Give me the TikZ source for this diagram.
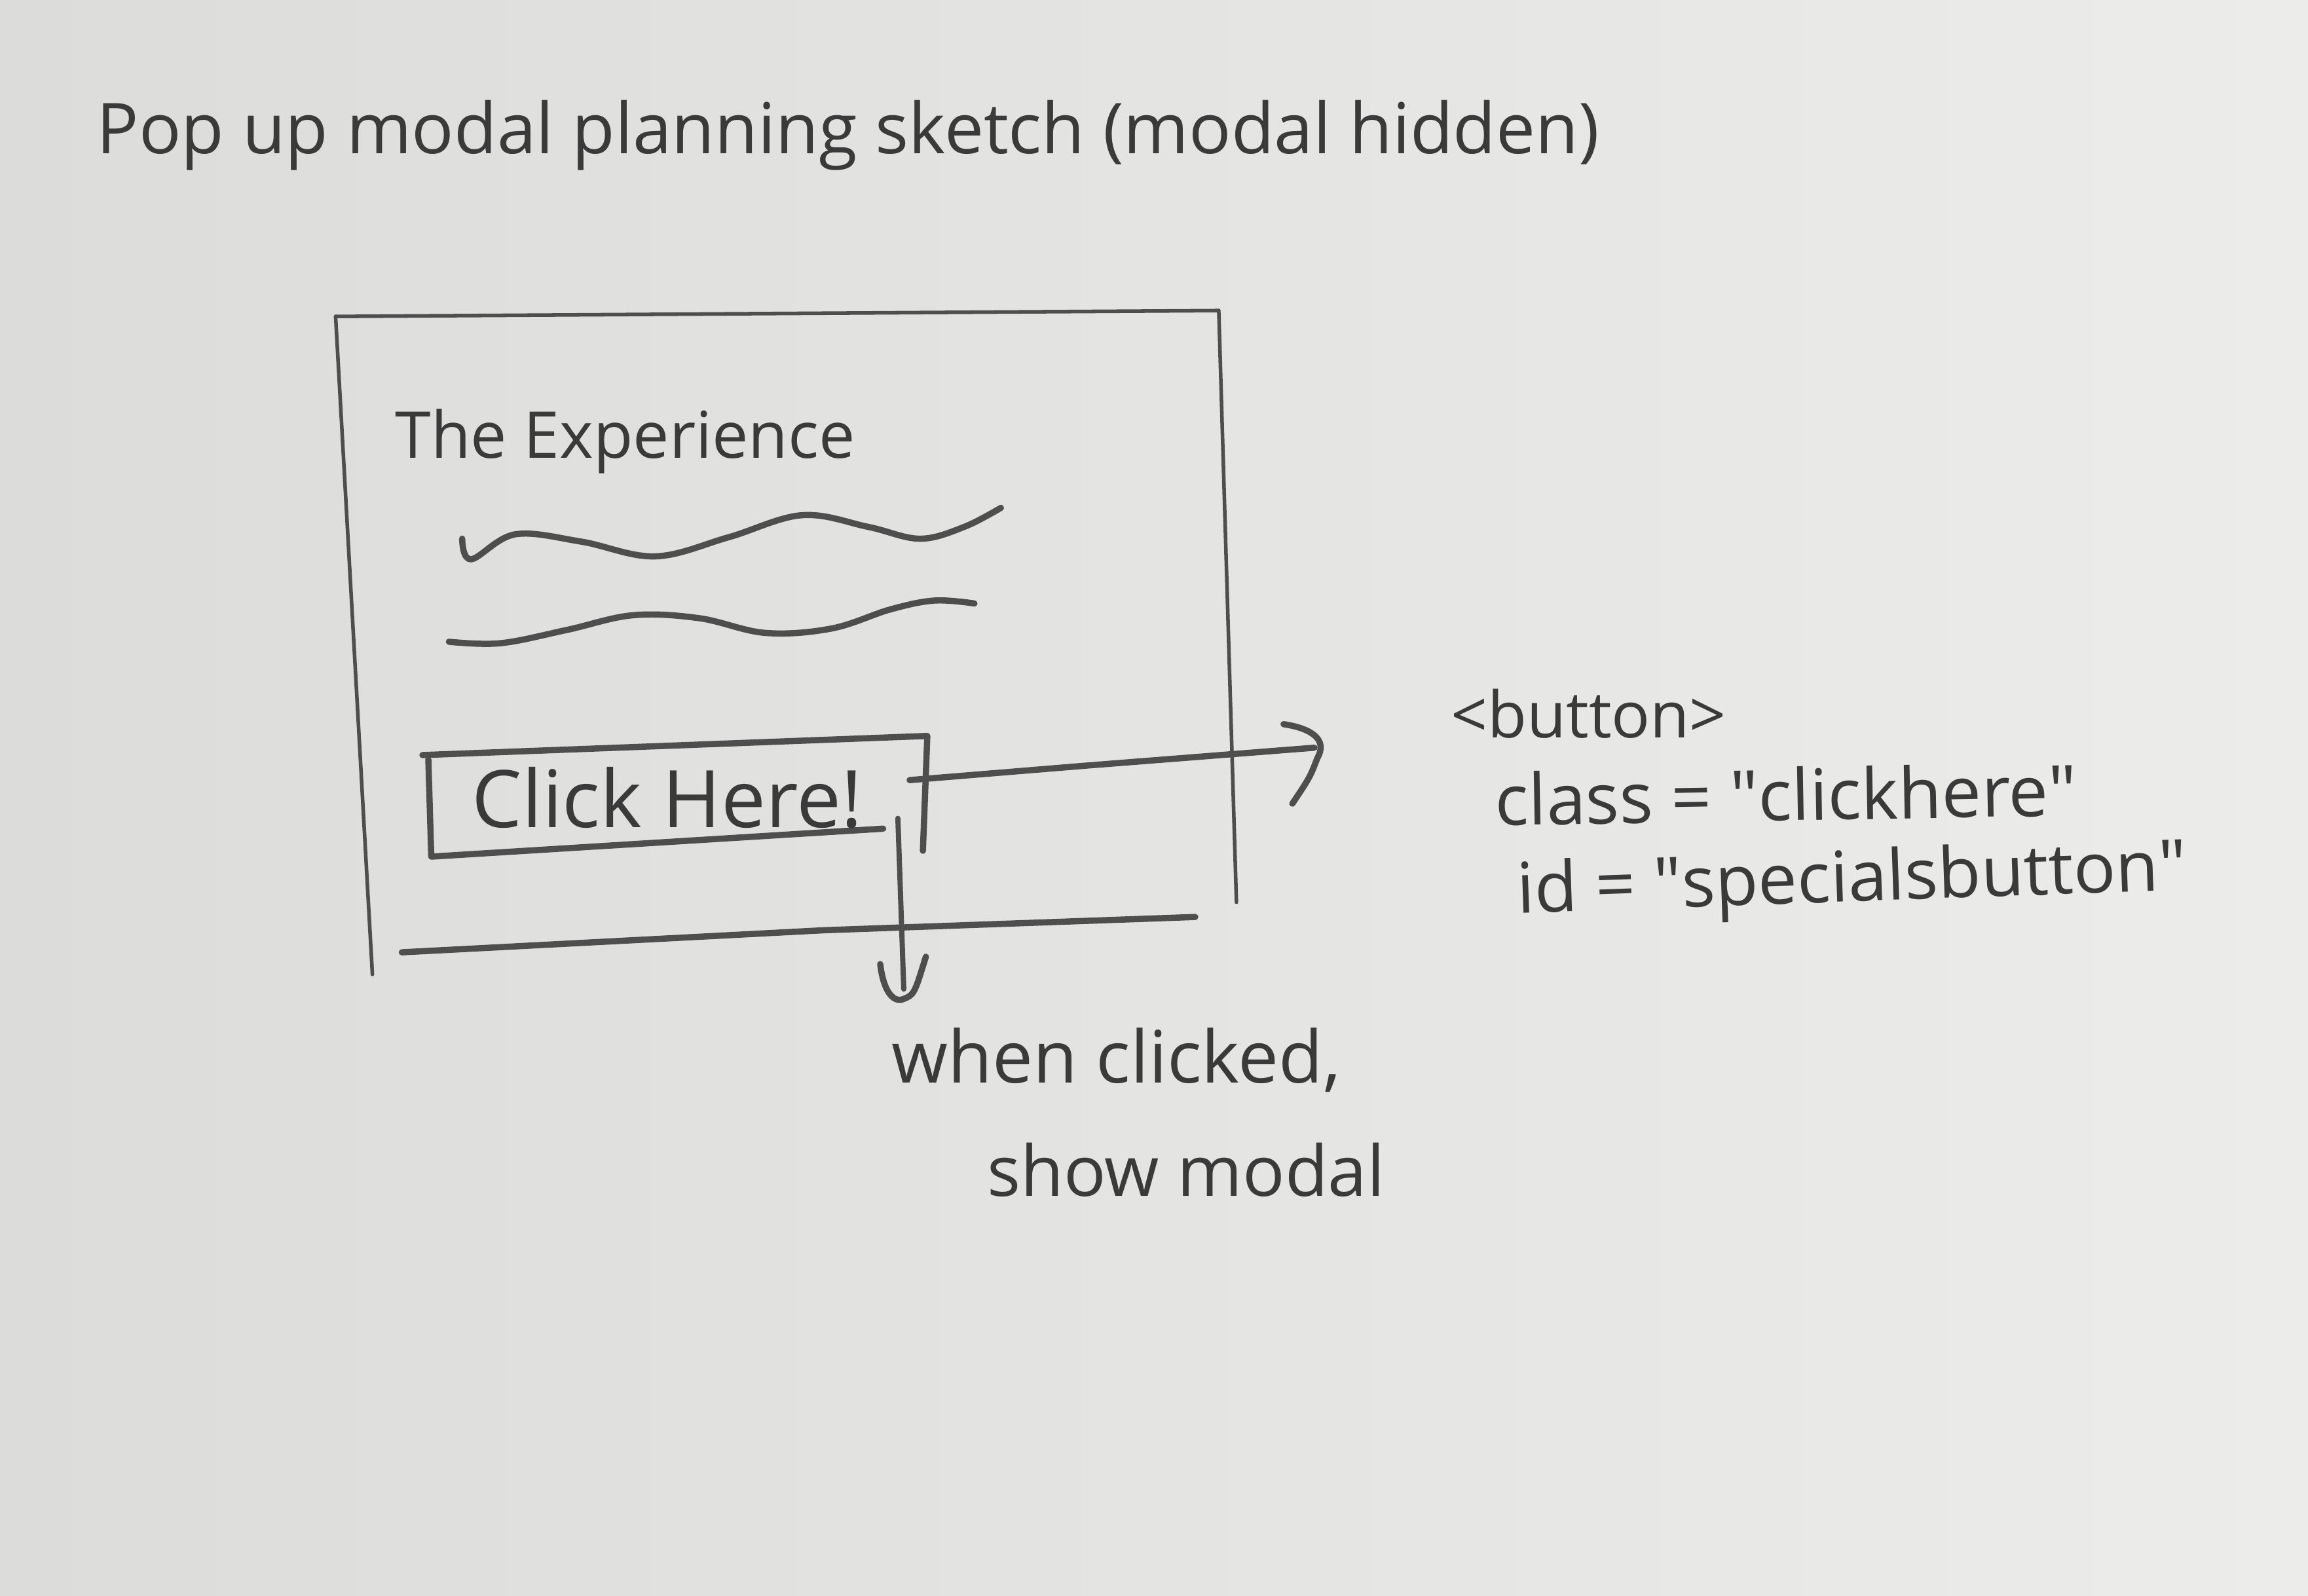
\documentclass[tikz,border=0pt]{standalone}
\usepackage{fontspec}
\setmainfont{Open Sans}
\definecolor{paperL}{RGB}{220,221,218}
\definecolor{paperR}{RGB}{236,236,234}
\definecolor{pencil}{RGB}{78,78,78}
\definecolor{ink}{RGB}{58,58,58}
\begin{document}
\begin{tikzpicture}[x=0.01cm,y=-0.01cm,
  sketch/.style={draw=pencil, line width=0.7pt, line cap=round, line join=round},
  heavy/.style={draw=pencil, line width=1.2pt, line cap=round, line join=round},
  hand/.style={text=ink, inner sep=0pt, anchor=west}]
\useasboundingbox (0,0) rectangle (1568,1084);
\shade[left color=paperL, right color=paperR] (0,0) rectangle (1568,1084);

% title
\node[hand] (title) at (65,92) {\resizebox{10.2cm}{!}{Pop up modal planning sketch (modal hidden)}};

% outer page frame
\draw[sketch] (228,215) -- (828,211);
\draw[sketch] (228,215) -- (253,662);
\draw[sketch] (828,211) -- (840,613);
\draw[heavy] (273,647) -- (560,632) -- (812,623);

% heading and text lines
\node[hand] (exp) at (268,300) {\resizebox{3.12cm}{!}{The Experience}};
\draw[heavy] plot[smooth, tension=0.6] coordinates {(314,366) (320,380) (350,363) (395,368) (445,378) (495,365) (545,350) (590,358) (625,366) (655,358) (680,345)};
\draw[heavy] plot[smooth, tension=0.6] coordinates {(305,436) (340,437) (385,428) (430,418) (475,420) (520,430) (565,427) (605,414) (635,408) (662,410)};

% button
\draw[heavy] (287,513) -- (630,500) -- (627,578);
\draw[heavy] (291,516) -- (293,582) -- (600,563);
\node[hand] (btn) at (320,542) {\resizebox{2.65cm}{!}{Click Here!}};

% right arrow
\coordinate (rA) at (618,530);
\coordinate (rB) at (893,508);
\draw[heavy] (rA) -- (740,520) -- (rB);
\draw[heavy] (872,492) .. controls (892,495) and (902,503) .. (895,515) .. controls (890,528) .. (878,546);

% down arrow
\coordinate (dA) at (610,556);
\coordinate (dB) at (614,672);
\draw[sketch, line width=1pt] (dA) -- (dB);
\draw[heavy] (598,655) .. controls (600,672) and (606,681) .. (613,679) .. controls (621,676) .. (629,650);

% annotations
\node[hand] (tag) at (985,485) {\resizebox{1.87cm}{!}{<button>}};
\node[hand, rotate=1] (cls) at (1015,543) {\resizebox{3.95cm}{!}{class = \textquotedbl clickhere\textquotedbl}};
\node[hand, rotate=2] (idn) at (1030,608) {\resizebox{4.55cm}{!}{id = \textquotedbl specialsbutton\textquotedbl}};
\node[hand] (when) at (605,720) {\resizebox{3.05cm}{!}{when clicked,}};
\node[hand] (show) at (670,795) {\resizebox{2.7cm}{!}{show modal}};
\end{tikzpicture}
\end{document}
